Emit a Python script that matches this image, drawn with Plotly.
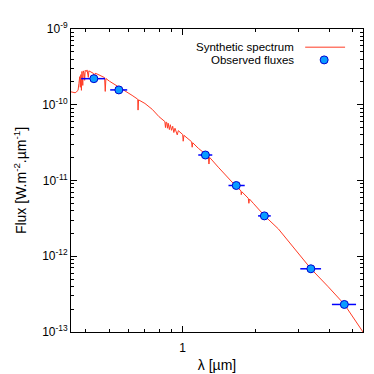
import math
import plotly.graph_objects as go

# Synthetic spectrum (wavelength in micron, flux in W m-2 um-1)
lam_spec = [0.348, 0.355, 0.362, 0.368, 0.372, 0.375, 0.378, 0.380, 0.382, 0.384,
            0.386, 0.389, 0.391, 0.394, 0.396, 0.398, 0.402, 0.405, 0.410, 0.412,
            0.420, 0.430, 0.434, 0.437, 0.445, 0.455, 0.468, 0.478, 0.481, 0.484,
            0.500, 0.520, 0.547, 0.580, 0.620, 0.650, 0.654, 0.656, 0.659, 0.700,
            0.750, 0.800, 0.823, 0.845, 0.850, 0.855, 0.860, 0.866, 0.872, 0.882,
            0.890, 0.900, 0.910, 0.920, 0.930, 0.950, 0.960, 1.000, 1.005, 1.012,
            1.060, 1.088, 1.094, 1.100, 1.160, 1.238, 1.275, 1.282, 1.290, 1.400,
            1.550, 1.643, 1.736, 1.740, 1.750, 1.860, 1.870, 1.880, 1.950, 2.170,
            2.470, 2.985, 3.360, 3.960, 4.610, 5.500]
flux_spec = [1.48e-10, 1.45e-10, 1.44e-10, 1.50e-10, 1.55e-10, 1.90e-10, 2.35e-10, 1.70e-10, 2.50e-10, 1.55e-10,
             2.75e-10, 1.80e-10, 2.80e-10, 2.60e-10, 2.10e-10, 2.85e-10, 2.75e-10, 2.88e-10, 2.30e-10, 2.80e-10,
             2.70e-10, 2.60e-10, 2.10e-10, 2.60e-10, 2.55e-10, 2.46e-10, 2.34e-10, 2.28e-10, 1.50e-10, 2.22e-10,
             2.05e-10, 1.90e-10, 1.70e-10, 1.54e-10, 1.33e-10, 1.20e-10, 1.18e-10, 8.50e-11, 1.16e-10, 1.04e-10,
             8.70e-11, 6.95e-11, 6.34e-11, 6.00e-11, 5.00e-11, 5.90e-11, 5.85e-11, 4.90e-11, 5.70e-11, 4.70e-11,
             5.45e-11, 4.60e-11, 5.20e-11, 4.30e-11, 4.90e-11, 4.00e-11, 4.55e-11, 4.05e-11, 3.30e-11, 3.95e-11,
             3.50e-11, 3.25e-11, 2.75e-11, 3.15e-11, 2.66e-11, 2.25e-11, 2.08e-11, 1.65e-11, 2.02e-11, 1.50e-11,
             1.05e-11, 8.60e-12, 7.30e-12, 6.50e-12, 7.10e-12, 5.82e-12, 5.00e-12, 5.70e-12, 5.00e-12, 3.41e-12,
             2.30e-12, 1.07e-12, 6.85e-13, 3.95e-13, 2.32e-13, 1.00e-13]

# Observed photometry
lam_obs = [0.432, 0.547, 1.24, 1.66, 2.165, 3.36, 4.61]
lam_lo = [0.383, 0.504, 1.159, 1.542, 2.04, 3.04, 4.10]
lam_hi = [0.480, 0.592, 1.323, 1.798, 2.30, 3.70, 5.15]
flux_obs = [2.21e-10, 1.57e-10, 2.17e-11, 8.59e-12, 3.41e-12, 6.83e-13, 2.31e-13]

y_decades = [-13, -12, -11, -10, -9]
x_major = [1]
x_minor = [0.4, 0.5, 0.6, 0.7, 0.8, 0.9, 2, 3, 4, 5]

RED = "#ff3b24"
BLUE = "#0000ff"
FILL = "#0a9cff"
FONT = "Liberation Sans"

fig = go.Figure()
fig.add_trace(go.Scatter(
    x=lam_spec, y=flux_spec, mode="lines",
    line=dict(color=RED, width=1),
    name="Synthetic spectrum", showlegend=False,
))
fig.add_trace(go.Scatter(
    x=lam_obs, y=flux_obs, mode="markers",
    marker=dict(size=8, color=FILL, line=dict(color="#0000d0", width=1)),
    error_x=dict(type="data", symmetric=False,
                 array=[h - c for h, c in zip(lam_hi, lam_obs)],
                 arrayminus=[c - l for c, l in zip(lam_obs, lam_lo)],
                 color=BLUE, thickness=1.5, width=0),
    name="Observed fluxes", showlegend=False,
))

y_minor = [m * 10 ** d for d in y_decades[:-1] for m in range(2, 10)]

fig.update_xaxes(
    type="log", range=[math.log10(0.348), math.log10(5.5)],
    tickmode="array", tickvals=x_major, ticktext=["1"],
    ticks="inside", ticklen=6, tickcolor="black", ticklabelstandoff=5,
    minor=dict(tickmode="array", tickvals=x_minor, ticks="inside", ticklen=3, tickcolor="black"),
    showline=True, linecolor="black", linewidth=1, mirror="ticks",
    showgrid=False, zeroline=False,
    title=dict(text="λ [µm]", standoff=5),
)
fig.update_yaxes(
    type="log", range=[-13, -9],
    tickmode="array", tickvals=[10 ** d for d in y_decades],
    ticktext=["10<sup>%d</sup>" % d for d in y_decades],
    ticks="inside", ticklen=6, tickcolor="black",
    minor=dict(tickmode="array", tickvals=y_minor, ticks="inside", ticklen=3, tickcolor="black"),
    showline=True, linecolor="black", linewidth=1, mirror="ticks",
    showgrid=False, zeroline=False,
    title=dict(text="Flux [W.m<sup>-2</sup>.µm<sup>-1</sup>]", standoff=12),
)

# legend drawn gnuplot-style: text right-aligned, sample to the right
fig.add_annotation(x=0.768, y=0.94, xref="paper", yref="paper", text="Synthetic spectrum",
                   showarrow=False, xanchor="right", yanchor="middle", borderpad=0,
                   font=dict(size=11.5))
fig.add_annotation(x=0.768, y=0.898, xref="paper", yref="paper", text="Observed fluxes",
                   showarrow=False, xanchor="right", yanchor="middle", borderpad=0,
                   font=dict(size=11.5))
fig.add_shape(type="line", xref="paper", yref="paper", x0=0.802, x1=0.9386, y0=0.94, y1=0.94,
              line=dict(color=RED, width=1))
fig.add_shape(type="circle", xref="paper", yref="paper", xsizemode="pixel", ysizemode="pixel",
              xanchor=0.867, yanchor=0.898, x0=-4, x1=4, y0=-4, y1=4,
              fillcolor=FILL, line=dict(color="#0000d0", width=1))

fig.update_layout(
    width=374, height=374,
    margin=dict(l=62, r=19, t=19, b=40),
    paper_bgcolor="white", plot_bgcolor="white",
    font=dict(family=FONT, size=12, color="black"),
    showlegend=False,
)

fig.write_html("out.html")
